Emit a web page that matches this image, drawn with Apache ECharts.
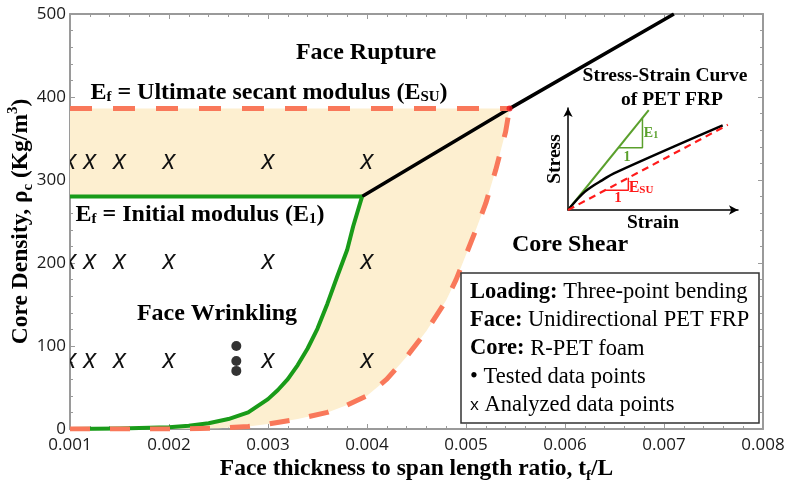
<!DOCTYPE html>
<html>
<head>
<meta charset="utf-8">
<script src="https://cdn.jsdelivr.net/npm/echarts@6/dist/echarts.min.js"></script>
<style>
  html, body { margin: 0; padding: 0; background: #fff; }
  #chart { width: 786px; height: 486px; }
</style>
</head>
<body>
<div id="chart"></div>
<script>
// Failure-mode map of sandwich beams: PET FRP faces on R-PET foam core.
// x: face thickness / span length, y: core density (kg/m3)

// Transition boundary using the initial face modulus E1
const initialModulusFlat = [[0.001, 280], [0.00395, 280]];
const initialModulusCurve = [
  [0.001, 0], [0.0015, 0.5], [0.002, 2], [0.0022, 4], [0.0024, 7], [0.0026, 12],
  [0.0028, 20], [0.003, 36], [0.0031, 47], [0.0032, 60], [0.0033, 77], [0.0034, 97],
  [0.0035, 121], [0.0036, 151], [0.0037, 184], [0.0038, 216], [0.00386, 244], [0.00395, 280]
];

// Transition boundary using the ultimate secant modulus ESU
const secantModulusFlat = [[0.001, 386], [0.00544, 386]];
const secantModulusCurve = [
  [0.001, 0], [0.002, 0], [0.0025, 1], [0.0028, 3], [0.003, 6], [0.0033, 12],
  [0.0036, 20], [0.0038, 29], [0.004, 40], [0.0042, 60], [0.0044, 87], [0.0046, 118],
  [0.0048, 155], [0.0049, 180], [0.005, 210], [0.0051, 240], [0.0052, 272],
  [0.0053, 312], [0.0054, 358], [0.00544, 386]
];

// Face rupture / core shear boundary
const faceRuptureLine = [[0.00395, 280], [0.00544, 386], [0.0071, 500]];
const junctionPoint = [[0.00544, 386]];

// Analyzed grid (x marks) and tested specimens (dots)
const analyzedRatios = [0.001, 0.0012, 0.0015, 0.002, 0.003, 0.004];
const analyzedDensities = [80, 200, 320];
const testedPoints = [[0.00268, 100], [0.00268, 82], [0.00268, 70]];

// Inset: schematic stress-strain curve (normalised units)
const insetInitial = [[0, 0], [0.475, 0.98]];
const insetCurve = [[0, 0], [0.06, 0.115], [0.1, 0.18], [0.15, 0.24], [0.2, 0.29], [0.27, 0.36], [0.91, 0.83]];
const insetSecant = [[0, 0], [0.94, 0.835]];
const insetInitialSlope = [[0.296, 0.611], [0.438, 0.611], [0.438, 0.904]];
const insetSecantSlope = [[0.219, 0.194], [0.355, 0.194], [0.355, 0.315]];

const analyzedPoints = [];
analyzedDensities.forEach(d => analyzedRatios.forEach(r => analyzedPoints.push([r, d])));

const SERIF = '"Liberation Serif", "Times New Roman", serif';
const SANS = '"Open Sans", "Noto Sans", sans-serif';
const AXIS_GREY = '#9a9a9a';
const GREEN = '#199b19';
const CORAL = '#f9785a';
const INSET_GREEN = '#5aa02c';
const INSET_RED = '#ff1a1a';

const chart = echarts.init(document.getElementById('chart'), null, { renderer: 'canvas' });

function frameAxis(opts) {
  return Object.assign({
    type: 'value',
    splitLine: { show: false },
    axisLine: { show: true, onZero: false, lineStyle: { color: AXIS_GREY, width: 2 } },
    axisTick: { show: true, inside: true, length: 5, lineStyle: { color: AXIS_GREY } },
    minorTick: { show: true, splitNumber: 5, length: 3, lineStyle: { color: AXIS_GREY } },
    axisLabel: { show: false },
    nameMoveOverlap: false
  }, opts);
}

function insetAxis(opts) {
  return Object.assign({
    type: 'value', gridIndex: 1, min: 0, max: 1,
    splitLine: { show: false },
    axisTick: { show: false },
    axisLabel: { show: false },
    axisLine: {
      show: true, onZero: false, symbol: ['none', 'arrow'], symbolSize: [7, 9],
      lineStyle: { color: '#000', width: 1.5 }
    },
    nameLocation: 'middle',
    nameMoveOverlap: false,
    nameTextStyle: { fontFamily: SERIF, fontWeight: 'bold', fontSize: 19.5, color: '#000' }
  }, opts);
}

const boldRich = {
  b: { fontFamily: SERIF, fontWeight: 'bold', fontSize: 24, lineHeight: 29, verticalAlign: 'bottom', fill: '#000' },
  s: { fontFamily: SERIF, fontWeight: 'bold', fontSize: 15, lineHeight: 15, verticalAlign: 'bottom', fill: '#000' }
};

function label(x, y, text, extra) {
  return {
    type: 'text', x: x, y: y, z: 20,
    style: Object.assign({
      text: text, align: 'center', verticalAlign: 'middle', fill: '#000',
      font: 'bold 24px ' + SERIF
    }, extra || {})
  };
}

const legendLines = [
  '{b|Loading:} Three-point bending',
  '{b|Face:} Unidirectional PET FRP',
  '{b|Core:} R-PET foam',
  '\u2022 Tested data points',
  '{x|x} Analyzed data points'
];

const option = {
  backgroundColor: '#fff',
  animation: false,
  grid: [
    { left: 70, right: 23, top: 14, bottom: 57, show: false, containLabel: false, outerBoundsMode: 'none' },
    { left: 568, top: 108, width: 170, height: 102, show: false, containLabel: false, outerBoundsMode: 'none' }
  ],
  xAxis: [
    frameAxis({
      gridIndex: 0, position: 'bottom', min: 0.001, max: 0.008, interval: 0.001,
      axisLabel: {
        show: true, margin: 8, color: '#1a1a1a', fontFamily: SANS, fontSize: 17,
        formatter: v => v.toFixed(3)
      },
      name: 'Face thickness to span length ratio, t{s|f}/L',
      nameLocation: 'middle', nameGap: 28,
      nameTextStyle: {
        fontFamily: SERIF, fontWeight: 'bold', fontSize: 23.5, color: '#000',
        rich: {
          s: { fontFamily: SERIF, fontWeight: 'bold', fontSize: 15, verticalAlign: 'bottom', lineHeight: 15, padding: [0, 0, -3, 0] }
        }
      }
    }),
    frameAxis({ gridIndex: 0, position: 'top', min: 0.001, max: 0.008, interval: 0.001 }),
    insetAxis({ name: 'Strain', nameGap: 3, nameTextStyle: { fontFamily: SERIF, fontWeight: 'bold', fontSize: 19.5, color: '#000', verticalAlign: 'top' } })
  ],
  yAxis: [
    frameAxis({
      gridIndex: 0, position: 'left', min: 0, max: 500, interval: 100,
      axisLabel: { show: true, margin: 4, color: '#1a1a1a', fontFamily: SANS, fontSize: 17 },
      name: 'Core Density, \u03c1{s|c} (Kg/m{p|3})',
      nameLocation: 'middle', nameGap: 37,
      nameTextStyle: {
        fontFamily: SERIF, fontWeight: 'bold', fontSize: 23.5, color: '#000',
        rich: {
          s: { fontFamily: SERIF, fontWeight: 'bold', fontSize: 15, verticalAlign: 'bottom', lineHeight: 15, padding: [0, 0, -3, 0] },
          p: { fontFamily: SERIF, fontWeight: 'bold', fontSize: 15, verticalAlign: 'top', lineHeight: 15, padding: [-3, 0, 0, 0] }
        }
      }
    }),
    frameAxis({ gridIndex: 0, position: 'right', min: 0, max: 500, interval: 100 }),
    insetAxis({ name: 'Stress', nameGap: 3 })
  ],
  series: [
    {
      // shaded transition band between the two modulus boundaries
      type: 'custom', xAxisIndex: 0, yAxisIndex: 0, clip: true, silent: true, z: 1,
      data: [[0.002, 100]],
      renderItem: (params, api) => {
        const outline = []
          .concat(secantModulusFlat)
          .concat(secantModulusCurve.slice().reverse())
          .concat(initialModulusCurve)
          .concat(initialModulusFlat.slice().reverse());
        return {
          type: 'polygon',
          shape: { points: outline.map(p => api.coord(p)) },
          style: { fill: '#fdefd0' }
        };
      }
    },
    {
      type: 'line', data: faceRuptureLine, z: 3, symbol: 'none',
      lineStyle: { color: '#000', width: 3.5 }
    },
    {
      type: 'line', data: initialModulusFlat, z: 4, symbol: 'none',
      lineStyle: { color: GREEN, width: 4 }
    },
    {
      type: 'line', data: initialModulusCurve, z: 4, symbol: 'none',
      lineStyle: { color: GREEN, width: 4, join: 'round' }
    },
    {
      type: 'line', data: secantModulusFlat, z: 4, symbol: 'none',
      lineStyle: { color: CORAL, width: 5, type: [22, 21] }
    },
    {
      type: 'line', data: secantModulusCurve, z: 4, symbol: 'none',
      lineStyle: { color: CORAL, width: 5, type: [20, 20], join: 'round' }
    },
    {
      type: 'scatter', data: junctionPoint, z: 5, symbolSize: 6,
      itemStyle: { color: '#e8141c' }
    },
    {
      type: 'scatter', data: testedPoints, z: 5, symbolSize: 10,
      itemStyle: { color: '#000' }
    },
    {
      // analyzed data points drawn as x glyphs
      type: 'custom', xAxisIndex: 0, yAxisIndex: 0, clip: true, silent: true, z: 6,
      data: analyzedPoints,
      renderItem: (params, api) => {
        const p = api.coord([api.value(0), api.value(1)]);
        return {
          type: 'text', x: p[0], y: p[1] - 2,
          style: { text: 'x', fill: '#111', font: 'italic 27px ' + SANS, align: 'center', verticalAlign: 'middle' }
        };
      }
    },
    // inset schematic
    {
      type: 'line', xAxisIndex: 2, yAxisIndex: 2, data: insetInitial, symbol: 'none', z: 4,
      lineStyle: { color: INSET_GREEN, width: 2 }
    },
    {
      type: 'line', xAxisIndex: 2, yAxisIndex: 2, data: insetInitialSlope, symbol: 'none', z: 4,
      lineStyle: { color: INSET_GREEN, width: 1.5 }
    },
    {
      type: 'line', xAxisIndex: 2, yAxisIndex: 2, data: insetCurve, symbol: 'none', smooth: 0.4, z: 4,
      lineStyle: { color: '#000', width: 2.5 }
    },
    {
      type: 'line', xAxisIndex: 2, yAxisIndex: 2, data: insetSecant, symbol: 'none', z: 5,
      lineStyle: { color: INSET_RED, width: 2.2, type: [7, 5] }
    },
    {
      type: 'line', xAxisIndex: 2, yAxisIndex: 2, data: insetSecantSlope, symbol: 'none', z: 4,
      lineStyle: { color: INSET_RED, width: 1.5 }
    }
  ],
  graphic: [
    label(366, 53, 'Face Rupture'),
    label(269, 90, '{b|E}{s|f}{b| = Ultimate secant modulus (E}{s|SU}{b|)}', { rich: boldRich }),
    label(200, 212, '{b|E}{s|f}{b| = Initial modulus (E}{s|1}{b|)}', { rich: boldRich }),
    label(217, 314, 'Face Wrinkling'),
    label(570, 245, 'Core Shear'),
    label(665, 76, 'Stress-Strain Curve', { font: 'bold 19.5px ' + SERIF }),
    label(672, 100, 'of PET FRP', { font: 'bold 19.5px ' + SERIF }),
    label(651, 132, '{e|E}{s|1}', {
      rich: {
        e: { fontFamily: SERIF, fontWeight: 'bold', fontSize: 14, lineHeight: 17, verticalAlign: 'bottom', fill: INSET_GREEN },
        s: { fontFamily: SERIF, fontWeight: 'bold', fontSize: 10, lineHeight: 10, verticalAlign: 'bottom', fill: INSET_GREEN }
      }
    }),
    label(627, 157, '1', { font: 'bold 14px ' + SERIF, fill: INSET_GREEN }),
    label(641, 186, '{e|E}{s|SU}', {
      rich: {
        e: { fontFamily: SERIF, fontWeight: 'bold', fontSize: 16, lineHeight: 19, verticalAlign: 'bottom', fill: INSET_RED },
        s: { fontFamily: SERIF, fontWeight: 'bold', fontSize: 11, lineHeight: 11, verticalAlign: 'bottom', fill: INSET_RED }
      }
    }),
    label(618, 198, '1', { font: 'bold 15px ' + SERIF, fill: INSET_RED }),
    {
      type: 'rect', z: 15,
      shape: { x: 461, y: 273, width: 298, height: 150 },
      style: { fill: '#fff', stroke: '#333', lineWidth: 1.5 }
    },
    ...legendLines.map((t, i) => ({
      type: 'text', x: 470, y: 292 + i * 28.3, z: 20,
      style: {
        text: t, align: 'left', verticalAlign: 'middle', fill: '#000',
        font: '22.5px ' + SERIF,
        rich: {
          b: { fontFamily: SERIF, fontWeight: 'bold', fontSize: 22.5, fill: '#000' },
          x: { fontFamily: SANS, fontSize: 17, fill: '#000' }
        }
      }
    }))
  ]
};

chart.setOption(option);
</script>
</body>
</html>
